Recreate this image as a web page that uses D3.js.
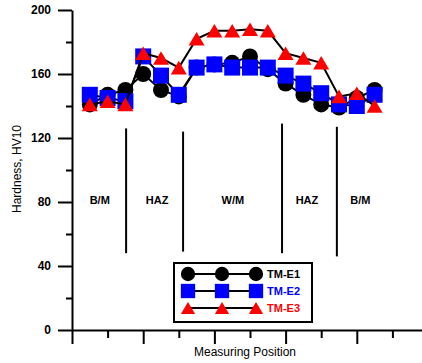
<!DOCTYPE html>
<html>
<head>
<meta charset="utf-8">
<script src="https://cdn.jsdelivr.net/npm/d3@7"></script>
<style>
  body { margin: 0; background: #fff; }
  svg { display: block; font-family: "Liberation Sans", Arial, sans-serif; }
  .axis path, .axis line { stroke: #000; stroke-width: 2; }
  .axis text { font-size: 12px; font-weight: bold; fill: #000; }
</style>
</head>
<body>
<svg width="422" height="363"></svg>
<script>
const svg = d3.select("svg");

// measuring positions (x) and hardness values for each series
const positions = [0.5, 1, 1.5, 2, 2.5, 3, 3.5, 4, 4.5, 5, 5.5, 6, 6.5, 7, 7.5, 8, 8.5];
const tmE1 = [141, 147, 150, 160, 150, 146, 164, 166, 167, 171, 163, 154, 147, 141, 139, 145, 150];
const tmE2 = [147, 145, 143, 171, 159, 147, 164, 166, 164, 164, 164, 159, 154, 148, 141, 140, 147];
const tmE3 = [141, 143, 141, 173, 170, 164, 182, 187, 187, 188, 187, 173, 170, 167, 146, 148, 140];

const yMajorTicks = [0, 40, 80, 120, 160, 200];
const yMinorTicks = [20, 60, 100, 140, 180];
const xMajorTicks = [0, 2, 4, 6, 8, 10];
const xMinorTicks = [1, 3, 5, 7, 9];

// zone dividers and labels
const zoneBounds = [1.52, 3.12, 5.9, 7.44];
const zoneTop = [126, 124, 129, 127];
const zoneBottom = [48, 49, 48, 46];
const zoneNames = ["B/M", "HAZ", "W/M", "HAZ", "B/M"];
const zoneCenters = [0.78, 2.39, 4.52, 6.6, 8.1];

const x = d3.scaleLinear().domain([0, 10]).range([72, 428]);
const y = d3.scaleLinear().domain([0, 200]).range([330, 10]);

// triangle centred on its bounding box, like the original plot markers
const boxTriangle = {
    draw(ctx, size) {
        const w = Math.sqrt(size) / 2;
        const h = w * 0.85;
        ctx.moveTo(0, -h);
        ctx.lineTo(w, h);
        ctx.lineTo(-w, h);
        ctx.closePath();
    }
};

// axes
svg.append("g")
    .attr("class", "axis")
    .attr("transform", "translate(0,330)")
    .call(d3.axisBottom(x).tickValues(xMajorTicks).tickSize(14).tickSizeOuter(0).tickFormat(""));
svg.append("g")
    .attr("class", "axis")
    .attr("transform", "translate(0,330)")
    .call(d3.axisBottom(x).tickValues(xMinorTicks).tickSize(8).tickSizeOuter(0).tickFormat(""))
    .select(".domain").remove();

svg.append("g")
    .attr("class", "axis")
    .attr("transform", "translate(72,0)")
    .call(d3.axisLeft(y).tickValues(yMajorTicks).tickSize(14).tickPadding(7).tickSizeOuter(0));
svg.append("g")
    .attr("class", "axis")
    .attr("transform", "translate(72,0)")
    .call(d3.axisLeft(y).tickValues(yMinorTicks).tickSize(6).tickSizeOuter(0).tickFormat(""))
    .select(".domain").remove();

// axis titles
svg.append("text")
    .attr("transform", "translate(21,169) rotate(-90)")
    .attr("text-anchor", "middle")
    .attr("font-size", 12)
    .text("Hardness, HV10");

svg.append("text")
    .attr("x", 245)
    .attr("y", 356)
    .attr("text-anchor", "middle")
    .attr("font-size", 12)
    .text("Measuring Position");

// zones
zoneBounds.forEach((b, i) => {
    svg.append("line")
        .attr("x1", x(b)).attr("x2", x(b))
        .attr("y1", y(zoneTop[i])).attr("y2", y(zoneBottom[i]))
        .attr("stroke", "#000")
        .attr("stroke-width", 2);
});
zoneNames.forEach((name, i) => {
    svg.append("text")
        .attr("x", x(zoneCenters[i]))
        .attr("y", y(81))
        .attr("dy", "0.35em")
        .attr("text-anchor", "middle")
        .attr("font-size", 11)
        .attr("font-weight", "bold")
        .text(name);
});

const line = d3.line()
    .x((d, i) => x(positions[i]))
    .y(d => y(d));

const series = [
    { values: tmE1, color: "#000000", symbol: d3.symbolCircle, size: 200, label: "TM-E1" },
    { values: tmE2, color: "#0000ff", symbol: d3.symbolSquare, size: 256, label: "TM-E2" },
    { values: tmE3, color: "#ff0000", symbol: boxTriangle, size: 256, label: "TM-E3" }
];

series.forEach(s => {
    svg.append("path")
        .datum(s.values)
        .attr("fill", "none")
        .attr("stroke", "#000")
        .attr("stroke-width", 2)
        .attr("d", line);

    svg.append("g")
        .selectAll("path")
        .data(s.values)
        .enter().append("path")
        .attr("transform", (d, i) => `translate(${x(positions[i])},${y(d)})`)
        .attr("d", d3.symbol().type(s.symbol).size(s.size))
        .attr("fill", s.color);
});

// legend
const legend = svg.append("g").attr("transform", "translate(174,263)");
legend.append("rect")
    .attr("width", 138)
    .attr("height", 59)
    .attr("fill", "#fff")
    .attr("stroke", "#000")
    .attr("stroke-width", 2);

series.forEach((s, i) => {
    const row = legend.append("g").attr("transform", `translate(0,${11 + i * 17})`);
    row.append("line")
        .attr("x1", 14).attr("x2", 82)
        .attr("stroke", "#000")
        .attr("stroke-width", 2);
    [14, 48, 82].forEach(mx => {
        row.append("path")
            .attr("transform", `translate(${mx},0)`)
            .attr("d", d3.symbol().type(s.symbol).size(s.size * 0.8))
            .attr("fill", s.color);
    });
    row.append("text")
        .attr("x", 93)
        .attr("dy", "0.35em")
        .attr("font-size", 11)
        .attr("font-weight", "bold")
        .attr("fill", s.color)
        .text(s.label);
});
</script>
</body>
</html>
